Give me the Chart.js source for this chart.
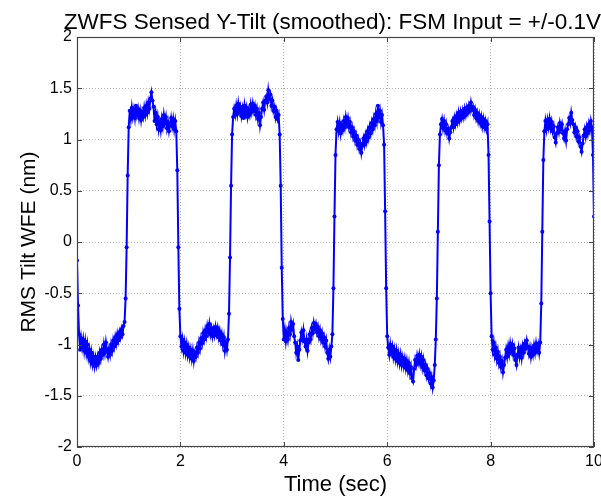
<!DOCTYPE html>
<html>
<head>
<meta charset="utf-8">
<script src="https://cdn.jsdelivr.net/npm/chart.js@4"></script>
<style>
html,body{margin:0;padding:0;background:#fff;overflow:hidden;}
#wrap{width:601px;height:498px;position:relative;}
</style>
</head>
<body>
<div id="wrap"><canvas id="c"></canvas></div>
<script>
// Sampling step of the recorded signal (seconds)
const sampleStep = 0.02;
// X tick labels (seconds)
const xTickValues = [0, 2, 4, 6, 8, 10];
// Y tick labels (nm)
const yTickValues = [-2, -1.5, -1, -0.5, 0, 0.5, 1, 1.5, 2];

// Sensed tilt, one block per second (50 samples each, last block 51)
const tilt0 = [-0.18,-0.62,-0.90,-1.05,-0.94,-1.03,-0.95,-1.06,-0.97,-1.08,
  -1.00,-1.12,-1.05,-1.16,-1.08,-1.19,-1.12,-1.21,-1.13,-1.20,
  -1.12,-1.18,-1.08,-1.14,-1.05,-1.10,-1.00,-1.08,-0.98,-1.06,
  -1.12,-1.04,-1.10,-1.00,-1.06,-0.96,-1.02,-0.93,-0.99,-0.90,
  -0.96,-0.88,-0.93,-0.85,-0.90,-0.82,-0.78,-0.55,-0.05,0.65];
const tilt1 = [1.12,1.28,1.20,1.31,1.22,1.29,1.21,1.33,1.24,1.30,
  1.21,1.28,1.19,1.27,1.22,1.31,1.24,1.33,1.26,1.36,
  1.30,1.40,1.46,1.38,1.32,1.18,1.26,1.15,1.22,1.10,
  1.17,1.09,1.20,1.13,1.24,1.16,1.22,1.11,1.17,1.08,
  1.14,1.21,1.13,1.20,1.10,1.18,1.08,0.70,-0.05,-0.65];
const tilt2 = [-0.92,-1.02,-0.95,-1.06,-0.98,-1.08,-1.00,-1.10,-1.03,-1.12,
  -1.05,-1.14,-1.06,-1.16,-1.08,-1.12,-1.03,-1.08,-0.98,-1.04,
  -0.94,-0.99,-0.89,-0.95,-0.86,-0.92,-0.82,-0.88,-0.80,-0.90,
  -0.84,-0.92,-0.85,-0.91,-0.83,-0.90,-0.84,-0.93,-0.87,-0.96,
  -0.90,-1.00,-0.93,-1.06,-0.98,-1.05,-0.95,-0.70,-0.15,0.55];
const tilt3 = [1.05,1.22,1.30,1.24,1.33,1.25,1.35,1.27,1.32,1.23,
  1.30,1.21,1.33,1.25,1.31,1.22,1.29,1.24,1.34,1.27,
  1.35,1.28,1.33,1.24,1.30,1.20,1.26,1.14,1.22,1.30,
  1.36,1.29,1.38,1.42,1.36,1.48,1.40,1.44,1.33,1.38,
  1.28,1.32,1.22,1.28,1.20,1.24,1.05,0.55,-0.25,-0.75];
const tilt4 = [-0.95,-0.86,-0.97,-0.88,-0.95,-0.84,-0.90,-0.78,-0.85,-0.80,
  -0.92,-0.98,-1.08,-1.02,-1.15,-1.05,-0.96,-0.88,-0.94,-0.86,
  -0.97,-1.02,-0.95,-1.06,-0.98,-0.90,-0.95,-0.84,-0.89,-0.79,
  -0.85,-0.80,-0.88,-0.83,-0.92,-0.86,-0.95,-0.89,-0.98,-0.93,
  -1.02,-0.96,-1.08,-1.14,-1.05,-1.12,-1.02,-0.90,-0.45,0.25];
const tilt5 = [0.85,1.10,1.17,1.08,1.16,1.06,1.14,1.09,1.18,1.12,
  1.22,1.15,1.21,1.12,1.17,1.07,1.12,1.03,1.08,0.99,
  1.04,0.95,1.00,0.91,0.96,0.87,0.94,1.01,0.95,1.04,
  0.98,1.08,1.02,1.12,1.06,1.16,1.10,1.20,1.14,1.25,
  1.18,1.33,1.22,1.28,1.17,1.24,1.14,0.95,0.30,-0.45];
const tilt6 = [-0.92,-1.03,-1.10,-1.00,-1.08,-1.02,-1.12,-1.05,-1.14,-1.06,
  -1.16,-1.09,-1.18,-1.10,-1.20,-1.13,-1.21,-1.14,-1.23,-1.16,
  -1.25,-1.18,-1.28,-1.22,-1.33,-1.36,-1.24,-1.15,-1.20,-1.11,
  -1.17,-1.10,-1.19,-1.12,-1.22,-1.15,-1.25,-1.20,-1.30,-1.24,
  -1.33,-1.28,-1.38,-1.32,-1.42,-1.35,-1.20,-0.95,-0.55,0.10];
const tilt7 = [0.75,1.05,1.15,1.20,1.11,1.18,1.09,1.15,1.06,1.10,
  1.01,1.07,1.12,1.18,1.12,1.21,1.15,1.23,1.17,1.26,
  1.19,1.27,1.21,1.28,1.22,1.30,1.24,1.31,1.26,1.33,
  1.28,1.36,1.29,1.32,1.24,1.29,1.21,1.26,1.18,1.24,
  1.16,1.22,1.13,1.20,1.12,1.18,1.10,1.15,0.85,0.20];
const tilt8 = [-0.50,-0.92,-1.05,-0.98,-1.10,-1.03,-1.14,-1.07,-1.18,-1.12,
  -1.22,-1.16,-1.27,-1.20,-1.13,-1.05,-1.12,-1.02,-1.09,-0.99,
  -1.06,-1.00,-1.10,-1.04,-1.15,-1.20,-1.10,-1.03,-1.12,-1.05,
  -1.13,-1.02,-1.08,-0.99,-1.04,-0.96,-1.02,-1.09,-1.03,-1.12,
  -1.04,-1.10,-1.01,-1.08,-0.99,-1.06,-1.00,-1.08,-0.98,-0.60];
const tilt9 = [0.10,0.80,1.08,1.18,1.10,1.19,1.12,1.20,1.11,1.17,
  1.08,1.13,1.02,0.97,1.06,1.12,1.07,1.16,1.10,1.15,
  1.06,1.01,1.08,0.99,1.10,1.15,1.21,1.16,1.26,1.19,
  1.15,1.07,1.12,1.03,1.08,0.98,1.02,0.93,0.88,0.96,
  1.04,1.10,1.03,1.12,1.06,1.15,1.09,1.18,1.12,0.85,0.25];

const tiltValues = [].concat(tilt0,tilt1,tilt2,tilt3,tilt4,tilt5,tilt6,tilt7,tilt8,tilt9);
const timeValues = tiltValues.map((_, i) => +(i * sampleStep).toFixed(2));
const points = tiltValues.map((v, i) => ({x: timeValues[i], y: v}));

const FONT = '"Liberation Sans", Arial, Helvetica, sans-serif';

const boxPlugin = {
  id: 'box',
  afterDatasetsDraw(chart) {
    const {ctx, chartArea: a, scales} = chart;
    ctx.save();
    ctx.strokeStyle = '#444';
    ctx.lineWidth = 1.2;
    ctx.strokeRect(Math.round(a.left) + 0.5, Math.round(a.top) + 0.5,
                   Math.round(a.right - a.left) - 1, Math.round(a.bottom - a.top) - 1);
    const tl = 5;
    ctx.lineWidth = 1;
    ctx.beginPath();
    xTickValues.forEach(v => {
      const px = Math.round(scales.x.getPixelForValue(v)) + 0.5;
      ctx.moveTo(px, a.bottom); ctx.lineTo(px, a.bottom - tl);
      ctx.moveTo(px, a.top); ctx.lineTo(px, a.top + tl);
    });
    yTickValues.forEach(v => {
      const py = Math.round(scales.y.getPixelForValue(v)) + 0.5;
      ctx.moveTo(a.left, py); ctx.lineTo(a.left + tl, py);
      ctx.moveTo(a.right, py); ctx.lineTo(a.right - tl, py);
    });
    ctx.stroke();
    ctx.restore();
  }
};

new Chart(document.getElementById('c'), {
  type: 'line',
  data: {
    datasets: [{
      data: points,
      borderColor: '#0000ff',
      backgroundColor: '#0000ff',
      borderWidth: 2,
      pointRadius: 2,
      pointBorderWidth: 0,
      pointBackgroundColor: '#0000ff',
      tension: 0,
      fill: false
    }]
  },
  options: {
    responsive: true,
    maintainAspectRatio: false,
    animation: false,
    events: [],
    layout: { padding: { left: 0, right: 0, top: 0, bottom: 0 } },
    plugins: {
      legend: { display: false },
      tooltip: { enabled: false },
      title: {
        display: true,
        align: 'end',
        text: 'ZWFS Sensed Y-Tilt (smoothed): FSM Input = +/-0.1V',
        color: '#000',
        font: { family: FONT, size: 22.5, weight: 'normal' },
        padding: { top: 9, bottom: 1 }
      }
    },
    scales: {
      x: {
        type: 'linear',
        min: 0, max: 10,
        afterBuildTicks: s => { s.ticks = xTickValues.map(v => ({value: v})); },
        afterFit: s => { s.height = 51; s.paddingLeft = 0; s.paddingRight = 7; },
        ticks: { color: '#000', font: { family: FONT, size: 16 }, padding: 5, maxRotation: 0,
                 callback: v => String(v) },
        grid: { color: '#b4b4b4', lineWidth: 1, drawTicks: false },
        border: { display: false, dash: [1, 2] },
        title: {
          display: true, text: 'Time (sec)', color: '#000',
          font: { family: FONT, size: 22 }, padding: { top: 0, bottom: 0 }
        }
      },
      y: {
        type: 'linear',
        min: -2, max: 2,
        afterBuildTicks: s => { s.ticks = yTickValues.map(v => ({value: v})); },
        afterFit: s => { s.width = 77; s.paddingTop = 0; s.paddingBottom = 0; },
        ticks: { color: '#000', font: { family: FONT, size: 16 }, padding: 5,
                 callback: v => String(v) },
        grid: { color: '#b4b4b4', lineWidth: 1, drawTicks: false },
        border: { display: false, dash: [1, 2] },
        title: {
          display: true, text: 'RMS Tilt WFE (nm)', color: '#000',
          font: { family: FONT, size: 21 }, padding: { top: 17, bottom: 0 }
        }
      }
    }
  },
  plugins: [boxPlugin]
});
</script>
</body>
</html>
